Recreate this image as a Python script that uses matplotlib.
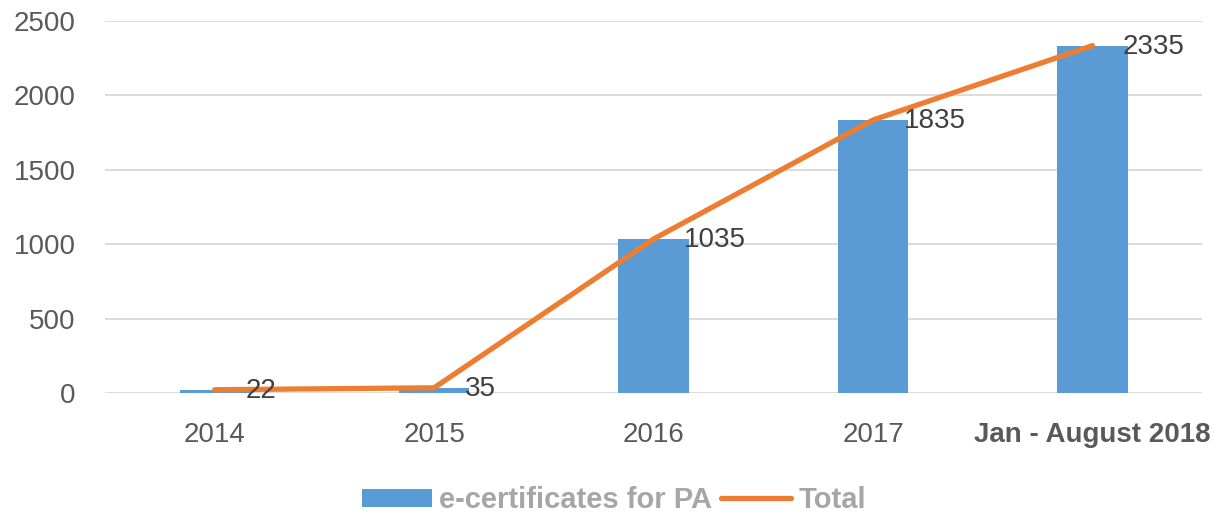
import matplotlib.pyplot as plt
import numpy as np

categories = ["2014", "2015", "2016", "2017", "Jan - August 2018"]
ecert_pa = [22, 35, 1035, 1835, 2335]
total = [22, 35, 1035, 1835, 2335]

plt.rcParams['font.family'] = ['Liberation Sans', 'DejaVu Sans']

fig = plt.figure(figsize=(12.28, 5.14), dpi=100)
ax = fig.add_axes([0.0855, 0.2354, 0.8935, 0.7236])

x = np.arange(len(categories))
bars = ax.bar(x, ecert_pa, width=0.32, color="#5B9BD5", zorder=2, label="e-certificates for PA")
line, = ax.plot(x, total, color="#ED7D31", lw=3.8, solid_capstyle="round", zorder=3, label="Total")

for xi, v in zip(x, total):
    ax.annotate(str(v), (xi, v), xytext=(22, -1), textcoords="offset points",
                va="center", ha="left", fontsize=20, color="#404040", zorder=4)

ax.set_xlim(-0.5, len(categories) - 0.5)
ax.set_ylim(0, 2500)
ax.set_yticks(np.arange(0, 2501, 500))
ax.yaxis.grid(True, color="#D9D9D9", lw=1.3)
ax.set_axisbelow(True)
for s in ax.spines.values():
    s.set_visible(False)
ax.tick_params(length=0, labelsize=20, colors="#595959")
ax.tick_params(axis="y", pad=21)
ax.tick_params(axis="x", pad=21)
ax.set_xticks(x)
ax.set_xticklabels(categories)
ax.get_xticklabels()[-1].set_fontweight("bold")

leg = fig.legend(handles=[bars, line], loc="center", bbox_to_anchor=(0.5, 0.027), ncol=2,
                 frameon=False, handlelength=2.4, handleheight=0.6, handletextpad=0.25,
                 columnspacing=0.3, prop={"weight": "bold", "size": 21})
for t in leg.get_texts():
    t.set_color("#A6A6A6")

fig.savefig("out.png", dpi=100)
